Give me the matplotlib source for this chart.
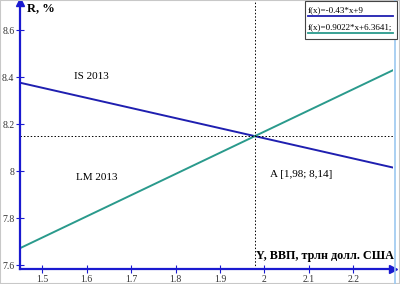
import numpy as np
import matplotlib.pyplot as plt
from matplotlib.patches import Rectangle
from matplotlib.lines import Line2D

# Chart data
x_range = [1.45, 2.29]
is_coef = [-0.43, 9.0]          # f(x) = -0.43*x + 9
lm_coef = [0.9022, 6.3641]      # f(x) = 0.9022*x + 6.3641
point_a = [1.98, 8.15]
x_ticks = [1.5, 1.6, 1.7, 1.8, 1.9, 2.0, 2.1, 2.2]
x_tick_labels = ['1.5', '1.6', '1.7', '1.8', '1.9', '2', '2.1', '2.2']
y_ticks = [7.6, 7.8, 8.0, 8.2, 8.4, 8.6]
y_tick_labels = ['7.6', '7.8', '8', '8.2', '8.4', '8.6']
legend_labels = ['f(x)=-0.43*x+9', 'f(x)=0.9022*x+6.3641;']

is_color = '#1f1fb0'
lm_color = '#2a9a8c'
axis_color = '#1a1ad0'
serif = ['Liberation Serif', 'DejaVu Serif']

plt.rcParams['font.family'] = serif

fig = plt.figure(figsize=(4.0, 2.84), dpi=100)
ax = fig.add_axes([0.05, 0.053, 0.933, 0.94])

x = np.array(x_range)
ax.plot(x, is_coef[0] * x + is_coef[1], color=is_color, lw=1.4)
ax.plot(x, lm_coef[0] * x + lm_coef[1], color=lm_color, lw=1.4)

# dashed guides through the equilibrium point
ax.axvline(point_a[0], color='black', lw=0.7, ls=(0, (1.5, 2)))
ax.axhline(point_a[1], color='black', lw=0.7, ls=(0, (1.5, 2)))

ax.set_xlim(1.45, 2.29)
ax.set_ylim(7.584, 8.72)
ax.set_xticks(x_ticks)
ax.set_xticklabels(x_tick_labels)
ax.set_yticks(y_ticks)
ax.set_yticklabels(y_tick_labels)
ax.tick_params(direction='inout', length=6, width=0.8, colors=axis_color,
               labelcolor='#333333', labelsize=7, pad=1)

for side in ['top', 'right']:
    ax.spines[side].set_visible(False)
for side in ['left', 'bottom']:
    ax.spines[side].set_color(axis_color)
    ax.spines[side].set_linewidth(1.6)

# arrow heads on the axes
ax.plot([0], [1], marker='^', color=axis_color, ms=6, transform=ax.transAxes, clip_on=False)
ax.plot([1], [0], marker='>', color=axis_color, ms=6, transform=ax.transAxes, clip_on=False)

ax.text(0.02, 1.0, 'R, %', transform=ax.transAxes, fontsize=9, fontweight='bold',
        va='top', ha='left')
ax.text(1.981, 7.615, 'Y, ВВП, трлн долл. США', fontsize=8.7, fontweight='bold',
        va='bottom', ha='left')

ax.text(1.61, 8.403, 'IS 2013', fontsize=8, ha='center', va='center')
ax.text(1.623, 7.973, 'LM 2013', fontsize=8, ha='center', va='center')
ax.text(2.083, 7.986, 'A [1,98; 8,14]', fontsize=8, ha='center', va='center')

# legend box drawn by hand, text with coloured line underneath
fig.patches.append(Rectangle((305 / 400, 1 - 39 / 284), 92 / 400, 38 / 284,
                             transform=fig.transFigure, facecolor='white',
                             edgecolor='#444444', lw=0.8, zorder=5))
for i, (label, col) in enumerate(zip(legend_labels, [is_color, lm_color])):
    ty = 1 - (10 + 17 * i) / 284
    fig.text(308 / 400, ty, label, fontsize=6.5, va='center', ha='left', zorder=6)
    ly = 1 - (16 + 17 * i) / 284
    fig.lines.append(Line2D([308 / 400, 393 / 400], [ly, ly], transform=fig.transFigure,
                            color=col, lw=1.3, zorder=6))

# light frame around the picture
fig.patches.append(Rectangle((0, 0), 1, 1, transform=fig.transFigure, fill=False,
                             edgecolor='#c8c8c8', lw=1.5))
fig.lines.append(Line2D([395 / 400, 395 / 400], [0, 1], transform=fig.transFigure,
                        color='#9cc8f0', lw=1.2))

fig.savefig('out.png', dpi=100)
plt.close()
